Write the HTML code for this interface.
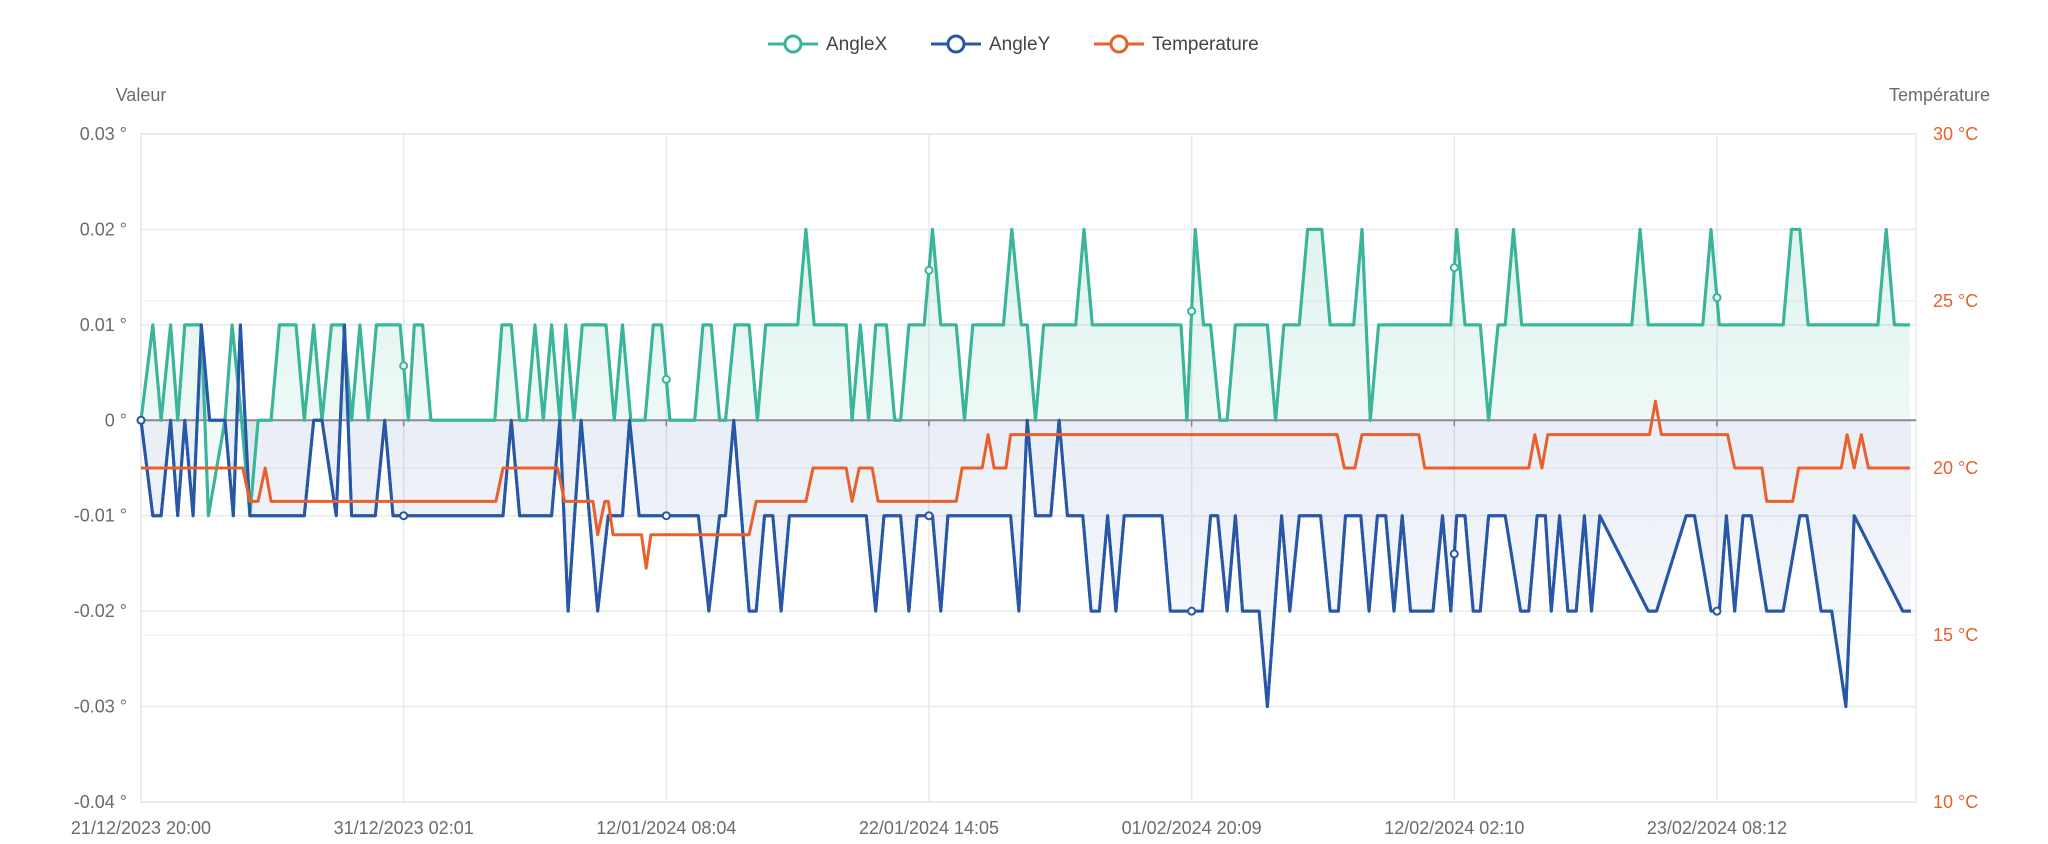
<!DOCTYPE html>
<html><head><meta charset="utf-8"><style>
html,body{margin:0;padding:0;background:#fff}
svg{display:block;font-family:"Liberation Sans",sans-serif}
</style></head><body>
<svg id="chart" width="2048" height="844" viewBox="0 0 2048 844"></svg>
<script>
// ---- data (x = sample position along category axis) ----
const xLabels = ["21/12/2023 20:00","31/12/2023 02:01","12/01/2024 08:04","22/01/2024 14:05","01/02/2024 20:09","12/02/2024 02:10","23/02/2024 08:12"];
const xLabelPos = [0,222,444,666,888,1110,1332];
const leftTicks = [0.03,0.02,0.01,0,-0.01,-0.02,-0.03,-0.04];
const rightTicks = [30,25,20,15,10];
const angleXPos = [0,10,17,25,31,37,51,57,71,77,85,92,99,110,117,131,138,146,153,161,171,178,185,192,199,219,226,231,238,245,299,305,313,320,326,333,340,347,354,359,366,373,393,400,407,414,426,433,440,447,468,475,482,489,494,502,514,521,528,555,562,569,596,601,608,615,621,630,637,642,649,662,669,676,689,696,703,729,736,744,749,756,763,790,797,804,879,884,891,898,904,912,918,925,952,959,966,979,986,998,1005,1025,1032,1039,1046,1107,1112,1119,1126,1132,1139,1147,1153,1160,1167,1260,1267,1274,1320,1327,1334,1388,1395,1402,1409,1468,1475,1482,1495];
const angleXVal = [0,1,0,1,0,1,1,-1,0,1,0,-1,0,0,1,1,0,1,0,1,1,0,1,0,1,1,0,1,1,0,0,1,1,0,0,1,0,1,0,1,0,1,1,0,1,0,0,1,1,0,0,1,1,0,0,1,1,0,1,1,2,1,1,0,1,0,1,1,0,0,1,1,2,1,1,0,1,1,2,1,1,0,1,1,2,1,1,0,2,1,1,0,0,1,1,0,1,1,2,2,1,1,2,0,1,1,2,1,1,1,0,1,1,2,1,1,2,1,1,2,1,1,2,2,1,1,2,1,1];
const angleYPos = [0,10,17,25,31,37,44,51,58,71,78,84,92,99,138,146,153,165,172,178,198,206,213,306,313,320,347,354,361,372,386,395,407,413,421,471,480,489,494,501,514,520,527,534,541,548,613,621,628,642,649,656,669,676,682,735,742,749,756,769,776,783,796,803,810,817,824,831,863,870,897,904,910,918,925,931,945,952,964,971,979,997,1005,1012,1018,1031,1038,1045,1052,1059,1066,1073,1092,1100,1107,1112,1119,1126,1132,1139,1153,1166,1173,1180,1187,1192,1199,1206,1213,1220,1226,1233,1274,1281,1306,1313,1327,1334,1340,1347,1354,1361,1374,1388,1402,1408,1420,1429,1441,1448,1489,1496];
const angleYVal = [0,-1,-1,0,-1,0,-1,1,0,0,-1,1,-1,-1,-1,0,0,-1,1,-1,-1,0,-1,-1,0,-1,-1,0,-2,0,-2,-1,-1,0,-1,-1,-2,-1,-1,0,-2,-2,-1,-1,-2,-1,-1,-2,-1,-1,-2,-1,-1,-2,-1,-1,-2,0,-1,-1,0,-1,-1,-2,-2,-1,-2,-1,-1,-2,-2,-1,-1,-2,-1,-2,-2,-3,-1,-2,-1,-1,-2,-2,-1,-1,-2,-1,-1,-2,-1,-2,-2,-1,-2,-1,-1,-2,-2,-1,-1,-2,-2,-1,-1,-2,-1,-2,-2,-1,-2,-1,-2,-2,-1,-1,-2,-2,-1,-2,-1,-1,-2,-2,-1,-1,-2,-2,-3,-1,-2,-2,-3];
const tempPos = [0,86,92,99,105,110,300,306,352,358,382,386,392,395,399,423,427,431,514,520,562,568,596,601,607,618,623,689,694,711,716,721,731,735,1011,1017,1026,1032,1080,1085,1173,1178,1184,1189,1275,1280,1285,1341,1347,1370,1374,1396,1401,1437,1442,1448,1454,1460,1495];
const tempVal = [20,20,19,19,20,19,19,20,20,19,19,18,19,19,18,18,17,18,18,19,19,20,20,19,20,20,19,19,20,20,21,20,20,21,21,20,20,21,21,20,20,21,20,21,21,22,21,21,20,20,19,19,20,20,21,20,21,20,20];

// ---- geometry ----
const L=141,R=1916,T=134,B=802,PMAX=1496;
const xs=p=>L+p*(1911-L)/PMAX;
const ya=v=>T+(0.03-v)/0.07*(B-T);
const yt=v=>T+(30-v)/20*(B-T);
const svg=document.getElementById('chart');
const NS='http://www.w3.org/2000/svg';
function mk(tag,attrs,parent){const e=document.createElementNS(NS,tag);for(const k in attrs)e.setAttribute(k,attrs[k]);(parent||svg).appendChild(e);return e;}

const defs=mk('defs',{});
defs.innerHTML='<linearGradient id="gx" x1="0" y1="0" x2="0" y2="1"><stop offset="0" stop-color="#3bb59a" stop-opacity="0.16"/><stop offset="1" stop-color="#3bb59a" stop-opacity="0.05"/></linearGradient><linearGradient id="gy" x1="0" y1="0" x2="0" y2="1"><stop offset="0" stop-color="#2c5aa8" stop-opacity="0.13"/><stop offset="1" stop-color="#2c5aa8" stop-opacity="0.03"/></linearGradient>';

// grid
const grid=mk('g',{});


mk('rect',{x:L,y:T,width:R-L,height:B-T,fill:'none',stroke:'#e8ebf0','stroke-width':1.5},grid);
leftTicks.forEach(v=>{
  const l=mk('line',{x1:L,x2:R,y1:ya(v),y2:ya(v),stroke:'#e6e9ee','stroke-width':1.5},grid);
  
  
  const t=mk('text',{x:127,y:ya(v)+6,'text-anchor':'end','font-size':18,fill:'#6b6b6b'});
  t.textContent=(v===0?'0':v.toFixed(2))+' °';
  
  
});
rightTicks.forEach(v=>{
  if(v<30&&v>10){const l=mk('line',{x1:L,x2:R,y1:yt(v),y2:yt(v),stroke:'#f4eee9','stroke-width':1.2},grid);
  
  }
  const t=mk('text',{x:1933,y:yt(v)+6,'font-size':18,fill:'#e8612c'});
  t.textContent=v+' °C';
  
  
});
xLabelPos.forEach((p,i)=>{
  const l=mk('line',{x1:xs(p),x2:xs(p),y1:T,y2:B,stroke:'#e6e9ee','stroke-width':1.5},grid);
  
  
  const tk=mk('line',{x1:xs(p),x2:xs(p),y1:ya(0),y2:ya(0)+6,stroke:'#888','stroke-width':1.5});
  
  
  const t=mk('text',{x:xs(p),y:834,'text-anchor':'middle','font-size':18,fill:'#6b6b6b'});
  t.textContent=xLabels[i];
  
  
});

function series(pos,val,yf,color,fill,name){
  const pts=pos.map((p,i)=>[xs(p),yf(val[i])]);
  const d='M'+pts.map(q=>q[0].toFixed(1)+','+q[1].toFixed(1)).join('L');
  if(fill){
    const a=mk('path',{d:d+'L'+pts[pts.length-1][0]+','+ya(0)+'L'+pts[0][0]+','+ya(0)+'Z',fill:fill});
    
    
  }
  const l=mk('path',{d:d,fill:'none',stroke:color,'stroke-width':3,'stroke-linejoin':'round'});
  
  
  return pts;
}
const sx=angleXVal.map(v=>v/100), sy=angleYVal.map(v=>v/100);
series(angleXPos,sx,ya,'#3bb59a','url(#gx)','anglex');
series(angleYPos,sy,ya,'#2757a6','url(#gy)','angley');
// zero axis
const zl=mk('line',{x1:L,x2:R,y1:ya(0),y2:ya(0),stroke:'#8a8a8a','stroke-width':2});


series(angleXPos,sx,ya,'#3bb59a',null,'anglex-top');
series(angleYPos,sy,ya,'#2757a6',null,'angley-top');
series(tempPos,tempVal,yt,'#e8612c',null,'temperature');

// markers at label positions
function interp(pos,val,p){for(let i=1;i<pos.length;i++){if(pos[i]>=p){const f=(p-pos[i-1])/(pos[i]-pos[i-1]||1);return val[i-1]+f*(val[i]-val[i-1]);}}return val[val.length-1];}
xLabelPos.forEach(p=>{
  [[angleXPos,sx,'#3bb59a'],[angleYPos,sy,'#2757a6']].forEach(s=>{
    const c=mk('circle',{cx:xs(p),cy:ya(interp(s[0],s[1],p)),r:3.5,fill:'#fff',stroke:s[2],'stroke-width':2});
    
    
  });
});

// axis titles
let t=mk('text',{x:141,y:101,'text-anchor':'middle','font-size':18,fill:'#6b6b6b'});t.textContent='Valeur';


t=mk('text',{x:1990,y:101,'text-anchor':'end','font-size':18,fill:'#6b6b6b'});t.textContent='Température';



// legend
const legendNames=['AngleX','AngleY','Temperature'];
const legendColors=['#3bb59a','#2757a6','#e8612c'];
const legendX=[768,931,1094];
legendNames.forEach((n,i)=>{
  const g=mk('g',{});
  
  
  mk('line',{x1:legendX[i],x2:legendX[i]+50,y1:44,y2:44,stroke:legendColors[i],'stroke-width':3},g);
  mk('circle',{cx:legendX[i]+25,cy:44,r:8,fill:'#fff',stroke:legendColors[i],'stroke-width':3},g);
  const tx=mk('text',{x:legendX[i]+58,y:50,'font-size':19,fill:'#444'},g);tx.textContent=n;
});
</script>
</body></html>
